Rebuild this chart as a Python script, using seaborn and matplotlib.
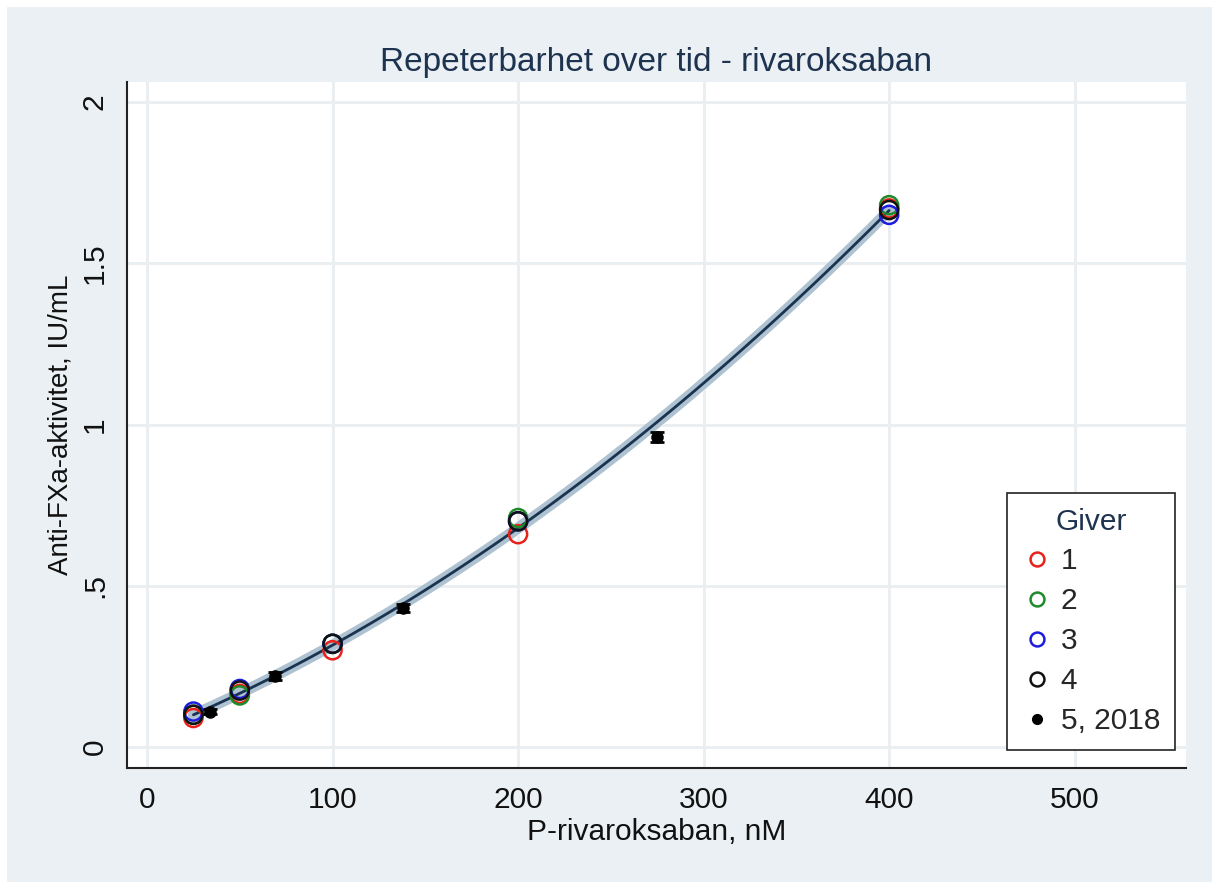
import numpy as np
import pandas as pd
import matplotlib
matplotlib.use('Agg')
import matplotlib.pyplot as plt
import matplotlib.patheffects as pe
from matplotlib.lines import Line2D
from matplotlib.patches import Rectangle
import seaborn as sns

# konsentrasjoner (nM) og anti-FXa (IU/mL) per giver
conc = [25, 50, 100, 200, 400]
giver1 = [0.09, 0.165, 0.30, 0.66, 1.67]
giver2 = [0.10, 0.16, 0.32, 0.71, 1.68]
giver3 = [0.11, 0.18, 0.32, 0.70, 1.65]
giver4 = [0.10, 0.175, 0.32, 0.70, 1.665]

# giver 5 (2018), middelverdi med feilstolper
conc5 = [34, 69, 138, 275]
mean5 = [0.11, 0.22, 0.43, 0.962]
err5 = [0.008, 0.012, 0.012, 0.015]

givere = ['1', '2', '3', '4']
farger = ['#e8211c', '#1f8a2a', '#1c1ce0', '#111111']

df = pd.DataFrame({
    'x': conc * 4 + conc5,
    'y': giver1 + giver2 + giver3 + giver4 + mean5,
    'giver': [g for g in givere for _ in conc] + ['5, 2018'] * len(conc5),
})

sns.set_style('white')
plt.rcParams['font.family'] = ['Liberation Sans', 'DejaVu Sans']

bg = '#eaf0f3'
fig = plt.figure(figsize=(12.12, 8.82), dpi=100, facecolor='white')
# bakgrunn med smal hvit kant oppe og til venstre
fig.patches.append(Rectangle((7 / 1212, 0), 1 - 7 / 1212, 1 - 7 / 882,
                             transform=fig.transFigure, facecolor=bg,
                             linewidth=0, zorder=-10))

ax = fig.add_axes([127 / 1212, 1 - 768 / 882, (1186 - 127) / 1212, (768 - 82) / 882])
ax.set_facecolor('white')

# kvadratisk tilpasning med konfidensbånd
sns.regplot(data=df, x='x', y='y', order=2, scatter=False, ci=95, seed=1,
            color='#1a476f', truncate=True, ax=ax,
            line_kws={'linewidth': 2, 'color': '#1a3450', 'zorder': 3,
                      'path_effects': [pe.Stroke(linewidth=8, foreground='#aec2d1'), pe.Normal()]})
for c in ax.collections:
    c.set_facecolor('#9fb6c8')
    c.set_alpha(0.8)
    c.set_zorder(2)

for g, col in zip(givere, farger):
    sub = df[df['giver'] == g]
    sns.scatterplot(x=sub['x'], y=sub['y'], marker='o', s=170, facecolor='none',
                    edgecolor=col, linewidth=1.8, ax=ax, zorder=5, legend=False)

ax.errorbar(conc5, mean5, yerr=err5, fmt='o', color='black', markersize=8,
            capsize=5, capthick=2, elinewidth=2, zorder=6)

ax.set_xlim(-10.8, 560)
ax.set_ylim(-0.065, 2.062)
ax.set_xticks([0, 100, 200, 300, 400, 500])
ax.set_yticks([0, 0.5, 1, 1.5, 2])
ax.set_yticklabels(['0', '.5', '1', '1.5', '2'], rotation=90, va='center')
ax.grid(True, color='#e9eef1', linewidth=2)
ax.set_axisbelow(True)
for s in ['top', 'right']:
    ax.spines[s].set_visible(False)
for s in ['left', 'bottom']:
    ax.spines[s].set_color('#222222')
    ax.spines[s].set_linewidth(1.5)
ax.tick_params(axis='both', direction='out', length=8, width=1.2, color='#333333',
               labelsize=21.5, labelcolor='#111111', pad=5)
ax.set_xlabel('P-rivaroksaban, nM', fontsize=21.5, color='#111111', labelpad=3)
ax.set_ylabel('Anti-FXa-aktivitet, IU/mL', fontsize=20, color='#111111', labelpad=5)
ax.set_title('Repeterbarhet over tid - rivaroksaban', fontsize=24, color='#1e3350', pad=8)

handles = [Line2D([], [], marker='o', linestyle='none', markerfacecolor='none',
                  markeredgecolor=c, markeredgewidth=1.8, markersize=10) for c in farger]
handles.append(Line2D([], [], marker='o', linestyle='none', color='black', markersize=7))
leg = ax.legend(handles, givere + ['5, 2018'], title='Giver', loc='lower right',
                bbox_to_anchor=(0.9896, 0.026), borderaxespad=0, fontsize=21.5,
                title_fontsize=21.5, frameon=True, fancybox=False, edgecolor='#222222',
                framealpha=1, handletextpad=0.3, handlelength=1.0, labelspacing=0.4,
                borderpad=0.5)
leg.get_title().set_color('#1e3350')
leg.get_frame().set_linewidth(1.2)

fig.savefig('out.png', dpi=100, facecolor='white')
